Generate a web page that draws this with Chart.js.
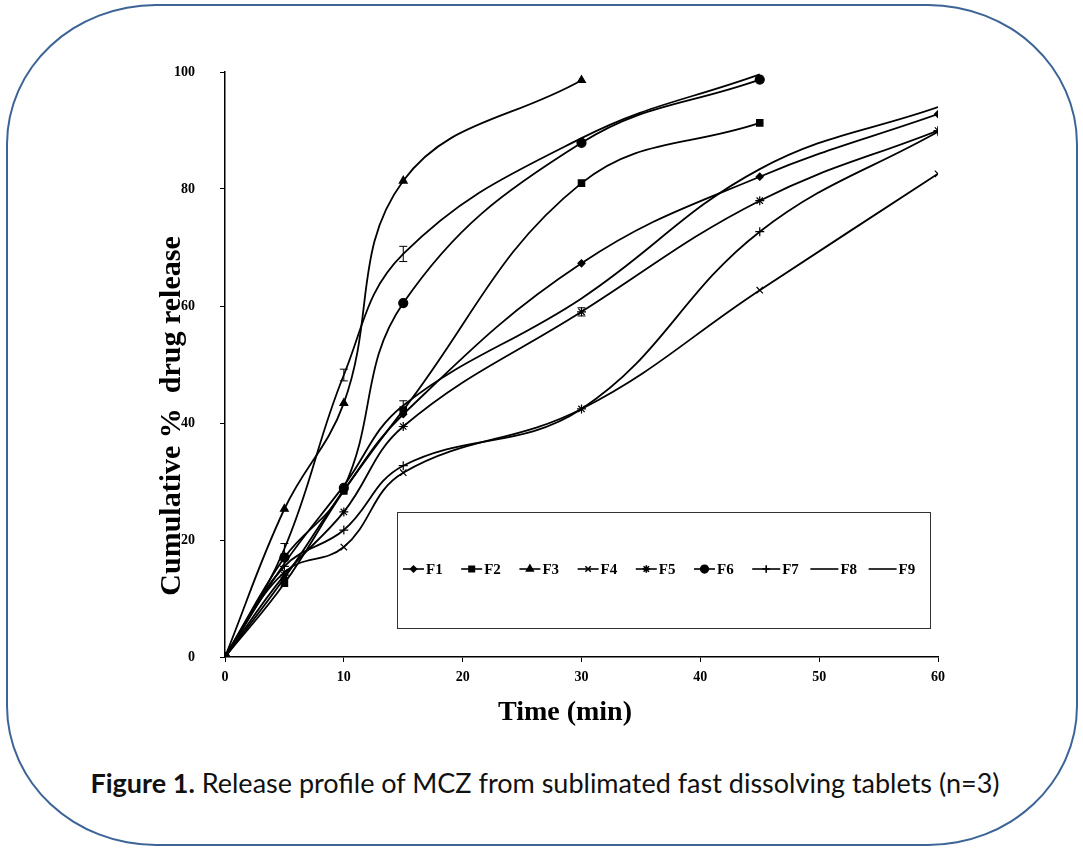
<!DOCTYPE html>
<html>
<head>
<meta charset="utf-8">
<script src="https://cdn.jsdelivr.net/npm/chart.js@4.4.0/dist/chart.umd.min.js"></script>
<style>
body{margin:0;background:#fff;width:1083px;height:852px;position:relative;overflow:hidden}
.frame{position:absolute;left:6px;top:4px;width:1072px;height:842px;border:2px solid #3c6496;border-radius:150px/140px;box-sizing:border-box}
#wrap{position:absolute;left:0;top:0;width:1083px;height:740px}
.caption{position:absolute;left:0;top:766px;width:1090px;text-align:center;font-family:Lato,"Open Sans",sans-serif;font-size:27px;color:#111}
</style>
</head>
<body>
<div class="frame"></div>
<div id="wrap"><canvas id="c"></canvas></div>
<div class="caption"><b>Figure 1.</b> Release profile of MCZ from sublimated fast dissolving tablets (n=3)</div>
<script>
const time=[0,5,10,15,30,45,60]
const F1=[0,13.5,28.5,41.5,67.3,82.1,92.8]
const F2=[0,12.6,28.4,42.2,81,91.3]
const F3=[0,25.3,43.4,81.4,98.6]
const F4=[0,14.5,18.8,31.5,42.4,62.7,82.6]
const F5=[0,14,24.8,39.4,59,78,90]
const F6=[0,17,28.9,60.5,87.9,98.7]
const F7=[0,15.5,21.7,32.7,42.4,72.7,89.8]
const F8=[0,18.5,48.2,68.9,88.7,99.6]
const F9=[0,16,29.3,43,61.3,83.4,94]
const errF5=[0,0,0,0,0.7,0,0]
const errF8=[0,0.9,1.0,1.3,0,0]
const errF9=[0,0,0,0.8,0,0,0]
const names=["F1","F2","F3","F4","F5","F6","F7","F8","F9"]
const series=[F1,F2,F3,F4,F5,F6,F7,F8,F9]
const errs=[null,null,null,null,errF5,null,null,errF8,errF9]
const styles=["rectRot","rect","triangle","crossRot","star","circle","cross",false,false]
const radii=[3.5,4.5,4.5,4.5,4.5,4.5,4.5,0,0]

const serif="'Liberation Serif','Times New Roman',serif"

const extras={
  id:"extras",
  afterDatasetsDraw(ch){
    const c=ch.ctx,xs=ch.scales.x,ys=ch.scales.y
    c.save()
    c.strokeStyle="#000";c.lineWidth=1
    // error bars
    ch.data.datasets.forEach((ds,i)=>{
      const e=errs[i]; if(!e)return
      series[i].forEach((v,j)=>{
        if(!e[j])return
        const px=xs.getPixelForValue(time[j]),top=ys.getPixelForValue(v+e[j]),bot=ys.getPixelForValue(v-e[j])
        c.beginPath();c.moveTo(px,top);c.lineTo(px,bot)
        c.moveTo(px-4,top);c.lineTo(px+4,top);c.moveTo(px-4,bot);c.lineTo(px+4,bot);c.stroke()
      })
    })
    // legend box
    c.strokeStyle="#333";c.strokeRect(397.5,512.5,533,116)
    c.font="bold 15px "+serif;c.fillStyle="#000";c.textBaseline="middle"
    const y=569
    names.forEach((n,i)=>{
      const x0=403+58.2*i,len=i<6?21:28
      c.strokeStyle="#000";c.lineWidth=1.6
      c.beginPath();c.moveTo(x0,y);c.lineTo(x0+len,y);c.stroke()
      if(styles[i])Chart.helpers.drawPoint(c,{pointStyle:styles[i],radius:radii[i]*0.85,borderWidth:1},x0+len/2,y)
      c.fillText(n,x0+len+2,y+1)
    })
    // axis titles
    c.font="bold 28px "+serif;c.textAlign="center";c.textBaseline="middle"
    c.fillText("Time (min)",565,713)
    c.font="bold 30px "+serif
    c.translate(172,416);c.rotate(-Math.PI/2)
    c.fillText("Cumulative %  drug release",0,0)
    c.restore()
  }
}

new Chart(document.getElementById("c"),{
  type:"line",
  data:{
    datasets:series.map((s,i)=>({
      label:names[i],
      data:s.map((v,j)=>({x:time[j],y:v})),
      borderColor:"#000",backgroundColor:"#000",borderWidth:1.8,
      tension:0.4,
      pointStyle:styles[i],pointRadius:radii[i],pointBorderWidth:1.2,
      pointBorderColor:"#000",pointBackgroundColor:"#000"
    }))
  },
  options:{
    responsive:true,maintainAspectRatio:false,animation:false,
    layout:{padding:{left:150,right:145,top:72,bottom:23}},
    plugins:{legend:{display:false},tooltip:{enabled:false}},
    scales:{
      x:{
        type:"linear",min:0,max:60,
        afterFit:s=>{s.height=60},
        ticks:{stepSize:10,color:"#000",padding:7,font:{family:serif,weight:"bold",size:14}},
        grid:{drawOnChartArea:false,drawTicks:true,tickLength:5,color:"#000"},
        border:{color:"#000",width:1.5}
      },
      y:{
        min:0,max:100,
        afterFit:s=>{s.width=75},
        ticks:{stepSize:20,color:"#000",padding:25,font:{family:serif,weight:"bold",size:14}},
        grid:{drawOnChartArea:false,drawTicks:true,tickLength:5,color:"#000"},
        border:{color:"#000",width:1.5}
      }
    }
  },
  plugins:[extras]
})
</script>
</body>
</html>
